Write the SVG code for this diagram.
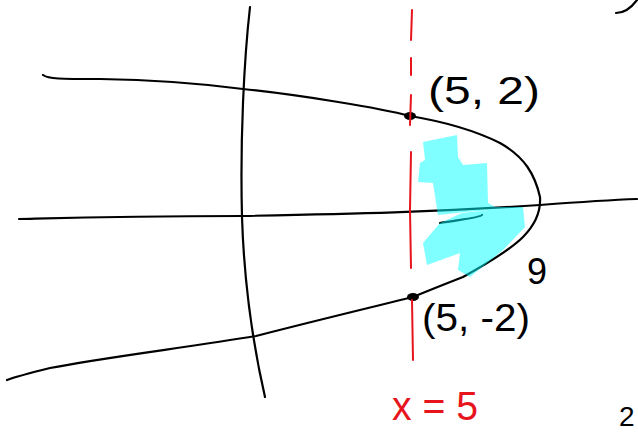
<svg xmlns="http://www.w3.org/2000/svg" width="638" height="435" viewBox="0 0 638 435">
<style>
.ink{fill:none;stroke:#000;stroke-width:2.2;stroke-linecap:round;stroke-linejoin:round}
.red{fill:none;stroke:#e8141c;stroke-width:2;stroke-linecap:round}
.lbl{font-family:"Liberation Sans",Arial,sans-serif;fill:#000}
.rlbl{font-family:"Liberation Sans",Arial,sans-serif;fill:#e8141c}
</style>
<rect width="638" height="435" fill="#fff"/>
<g id="axes">
<path class="ink" d="M250,7 C244,60 240,140 242,217 C244,280 252,340 265,397"/>
<path class="ink" d="M19,219 C60,218 120,216 242,216 C350,214 440,212 540,205 C580,202 610,200 637,199"/>
</g>
<g id="parabola">
<path class="ink" d="M43,75 C48,79 60,79 100,79 C170,80 220,86 243,89 C300,95 380,108 410,116 C440,121 470,128 500,143 C525,157 535,175 540,197 C541,212 535,225 523,237 C510,250 490,262 463,277 C440,286 425,292 413,297 C360,310 310,322 256,336 C190,347 100,358 50,368 C30,373 15,377 7,380"/>
<ellipse cx="410" cy="116" rx="6" ry="4" fill="#000"/>
<ellipse cx="413" cy="297" rx="6" ry="4" fill="#000"/>
<path class="ink" d="M440,223 C455,220 480,218 482,215" stroke-width="1.5"/>
</g>
<g id="line-x5">
<path class="red" d="M412,10 L411,40 M411,58 L411,75 M411,95 L410,125 M411,152 L410,210 L411,268 M412,300 L413,360"/>
</g>
<g id="region">
<path d="M423,142 L457,135 L458,157 L463,165 L487,163 L488,203 L495,207 L523,207 L525,227 L503,250 L470,277 L458,270 L460,253 L427,265 L423,243 L440,223 L462,213 L490,210 L465,212 L438,215 L433,183 L418,182 L420,163 L425,160 Z" fill="#00ffff" fill-opacity="0.5"/>
</g>
<g id="labels">
<text class="lbl" x="428" y="104" font-size="38" textLength="112" lengthAdjust="spacingAndGlyphs">(5, 2)</text>
<text class="lbl" x="422" y="331" font-size="38" textLength="108" lengthAdjust="spacingAndGlyphs">(5, -2)</text>
<text class="lbl" x="527" y="284" font-size="36">9</text>
<text class="rlbl" x="392" y="420" font-size="40" textLength="86" lengthAdjust="spacingAndGlyphs">x = 5</text>
<text class="lbl" x="619" y="426" font-size="28">2</text>
<path class="ink" d="M616,13 C624,13 631,8 637,0"/>
</g>
</svg>
